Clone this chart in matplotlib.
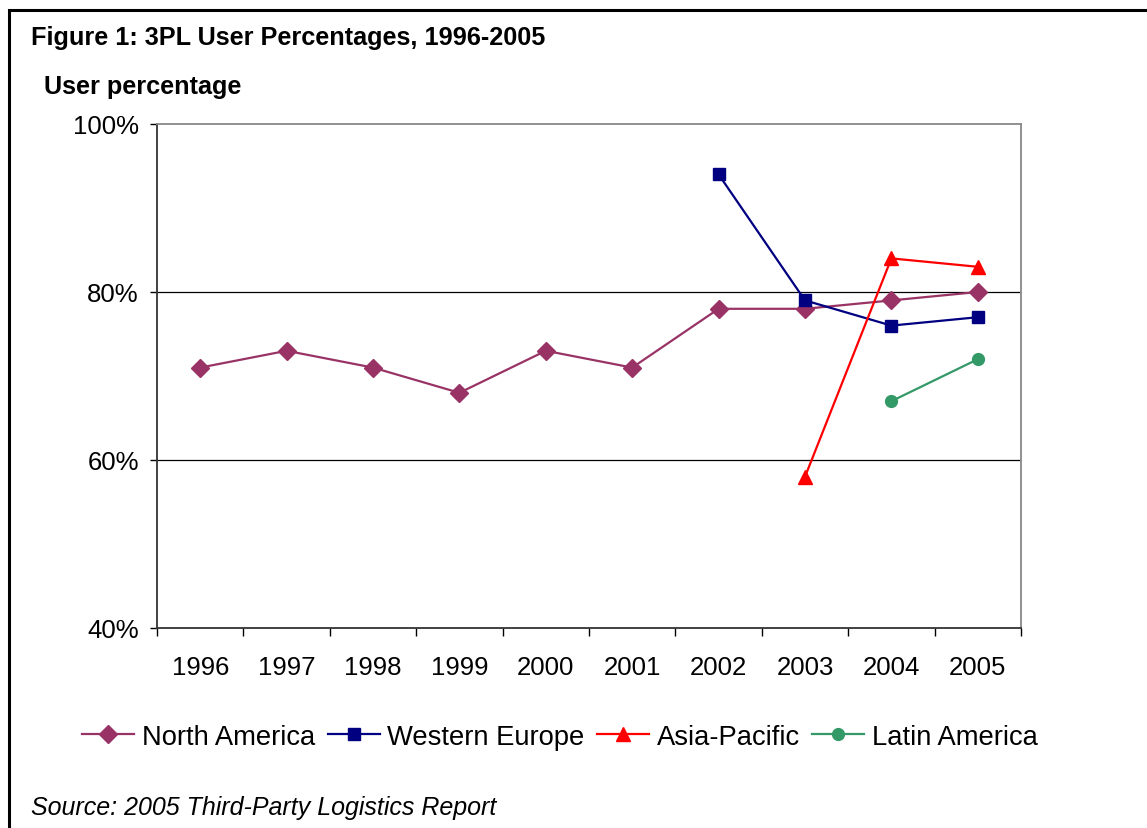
import matplotlib
matplotlib.use("Agg")
import matplotlib.pyplot as plt
from matplotlib.patches import Rectangle
from matplotlib.ticker import FixedLocator

years = ["1996", "1997", "1998", "1999", "2000", "2001", "2002", "2003", "2004", "2005"]
north_america = [71, 73, 71, 68, 73, 71, 78, 78, 79, 80]
western_europe = [None, None, None, None, None, None, 94, 79, 76, 77]
asia_pacific = [None, None, None, None, None, None, None, 58, 84, 83]
latin_america = [None, None, None, None, None, None, None, None, 67, 72]
y_ticks = [40, 60, 80, 100]
y_ticklabels = ["40%", "60%", "80%", "100%"]
grid_levels = [60, 80]

plt.rcParams['font.family'] = ['Liberation Sans', 'DejaVu Sans']

W, H = 1147, 829
fig = plt.figure(figsize=(W / 100, H / 100), dpi=100)
fig.patches.append(Rectangle((9 / W, -0.1), 1.2, (1 - 11 / H) + 0.1, transform=fig.transFigure,
                             fill=False, edgecolor='black', linewidth=2.2))

ax = fig.add_axes([157 / W, 1 - 629 / H, 864 / W, 504 / H])

def pts(series):
    xs = [i for i, v in enumerate(series) if v is not None]
    ys = [v for v in series if v is not None]
    return xs, ys

series = [
    ("North America", north_america, '#993366', 'D', 9),
    ("Western Europe", western_europe, '#000080', 's', 8.5),
    ("Asia-Pacific", asia_pacific, '#FF0000', '^', 10),
    ("Latin America", latin_america, '#339966', 'o', 8.5),
]
for name, vals, col, mk, ms in series:
    xs, ys = pts(vals)
    ax.plot(xs, ys, color=col, marker=mk, markersize=ms, linewidth=1.6,
            markerfacecolor=col, markeredgecolor=col, label=name, zorder=3)

for g in grid_levels:
    ax.axhline(g, color='black', linewidth=0.9, zorder=1)

ax.set_xlim(-0.5, len(years) - 0.5)
ax.set_ylim(40, 100)
ax.set_yticks(y_ticks)
ax.set_yticklabels(y_ticklabels)
ax.set_xticks(range(len(years)))
ax.set_xticklabels(years)
ax.xaxis.set_minor_locator(FixedLocator([i - 0.5 for i in range(len(years) + 1)]))
ax.tick_params(axis='x', which='major', length=0, pad=19.5, labelsize=18.5)
ax.tick_params(axis='x', which='minor', length=6, width=1, direction='out', color='black')
ax.tick_params(axis='y', which='major', length=5, width=1, direction='out', pad=8, labelsize=18.5)

for s in ['left', 'bottom']:
    ax.spines[s].set_color('#333333')
    ax.spines[s].set_linewidth(1.3)
for s in ['top', 'right']:
    ax.spines[s].set_color('#888888')
    ax.spines[s].set_linewidth(1.3)

fig.text(31 / W, 1 - 45 / H, "Figure 1: 3PL User Percentages, 1996-2005", fontsize=18.2,
         fontweight='bold', ha='left', va='baseline')
fig.text(44 / W, 1 - 94 / H, "User percentage", fontsize=18.2,
         fontweight='bold', ha='left', va='baseline')
fig.text(31 / W, 1 - 815 / H, "Source: 2005 Third-Party Logistics Report", fontsize=18,
         style='italic', ha='left', va='baseline')

handles, labels = ax.get_legend_handles_labels()
fig.legend(handles, labels, loc='center', bbox_to_anchor=(560 / W, 1 - 738 / H), ncol=4,
           frameon=False, fontsize=19.7, handlelength=1.9, handletextpad=0.28,
           columnspacing=0.45, borderaxespad=0)

fig.savefig("out.png", dpi=100)
